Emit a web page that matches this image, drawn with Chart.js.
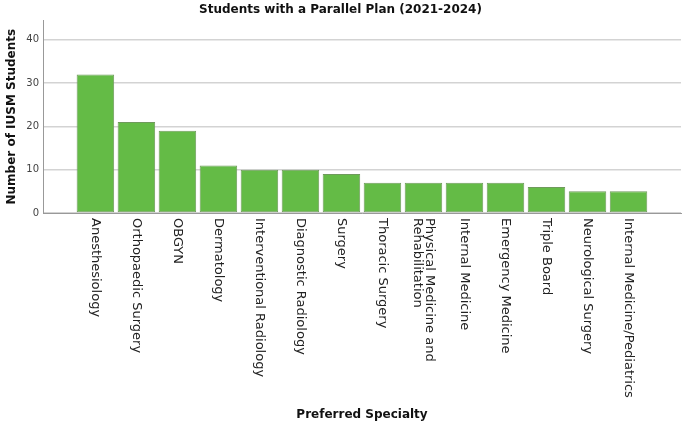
<!DOCTYPE html>
<html>
<head>
<meta charset="utf-8">
<script src="https://cdn.jsdelivr.net/npm/chart.js@4.4.1/dist/chart.umd.min.js"></script>
<style>
    html, body { margin: 0; padding: 0; background: #fff; }
    #wrap { width: 685px; height: 427px; }
</style>
</head>
<body>
<div id="wrap"><canvas id="myChart"></canvas></div>
<script>
// Adatok
const specialties = [
    'Anesthesiology', 'Orthopaedic Surgery', 'OBGYN', 'Dermatology',
    'Interventional Radiology', 'Diagnostic Radiology', 'Surgery', 'Thoracic Surgery',
    ['Physical Medicine and', 'Rehabilitation'], 'Internal Medicine', 'Emergency Medicine',
    'Triple Board', 'Neurological Surgery', 'Internal Medicine/Pediatrics'
];
const counts = [32, 21, 19, 11, 10, 10, 9, 7, 7, 7, 7, 6, 5, 5];
const yTicks = [0, 10, 20, 30, 40];

const labelFont = '13px "DejaVu Sans", sans-serif';
const boldFont = { family: '"DejaVu Sans", sans-serif', size: 12, weight: 'bold' };

// Elforgatott (lefelé olvasható) kategória feliratok
const downLabels = {
    id: 'downLabels',
    afterDraw(chart) {
        const ctx = chart.ctx;
        const xs = chart.scales.x;
        const top = chart.chartArea.bottom + 5;
        ctx.save();
        ctx.font = labelFont;
        ctx.fillStyle = '#222';
        ctx.textAlign = 'left';
        ctx.textBaseline = 'middle';
        specialties.forEach((lab, i) => {
            const lines = Array.isArray(lab) ? lab : [lab];
            const x = xs.getPixelForValue(i);
            ctx.save();
            ctx.translate(x, top);
            ctx.rotate(Math.PI / 2);
            lines.forEach((ln, k) => {
                ctx.fillText(ln, 0, (k - (lines.length - 1) / 2) * 12);
            });
            ctx.restore();
        });
        ctx.restore();
    }
};

const ctx = document.getElementById('myChart').getContext('2d');
new Chart(ctx, {
    type: 'bar',
    data: {
        datasets: [{
            data: counts.map((v, i) => ({ x: i, y: v })),
            backgroundColor: '#64bb46',
            borderColor: '#6f9a5c',
            borderWidth: 1,
            borderSkipped: false,
            categoryPercentage: 1,
            barPercentage: 0.915
        }]
    },
    options: {
        responsive: true,
        maintainAspectRatio: false,
        animation: false,
        layout: { padding: { left: 0, right: 4, top: 0, bottom: 0 } },
        plugins: {
            legend: { display: false },
            tooltip: { enabled: false },
            title: {
                display: true,
                text: 'Students with a Parallel Plan (2021-2024)',
                color: '#111',
                font: boldFont,
                padding: { top: 3, bottom: 3 }
            }
        },
        scales: {
            x: {
                type: 'linear',
                offset: false,
                min: -1.278,
                max: 14.28,
                grid: { display: false },
                border: { display: true, color: '#999', width: 1 },
                ticks: { display: false },
                afterFit: s => { s.height = 214; },
                title: {
                    display: true,
                    text: 'Preferred Specialty',
                    color: '#111',
                    font: boldFont,
                    padding: { top: 0, bottom: 5 }
                }
            },
            y: {
                min: 0,
                max: 44.5,
                afterBuildTicks: s => { s.ticks = yTicks.map(v => ({ value: v })); },
                grid: { color: '#d3d3d3', lineWidth: 1.4, drawTicks: false },
                border: { display: true, color: '#999', width: 1 },
                ticks: {
                    color: '#444',
                    padding: 4,
                    font: { family: '"DejaVu Sans", sans-serif', size: 10 }
                },
                afterFit: s => { s.width = 43; },
                title: {
                    display: true,
                    text: 'Number of IUSM Students',
                    color: '#111',
                    font: boldFont,
                    padding: { top: 5, bottom: 0 }
                }
            }
        }
    },
    plugins: [downLabels]
});
</script>
</body>
</html>
